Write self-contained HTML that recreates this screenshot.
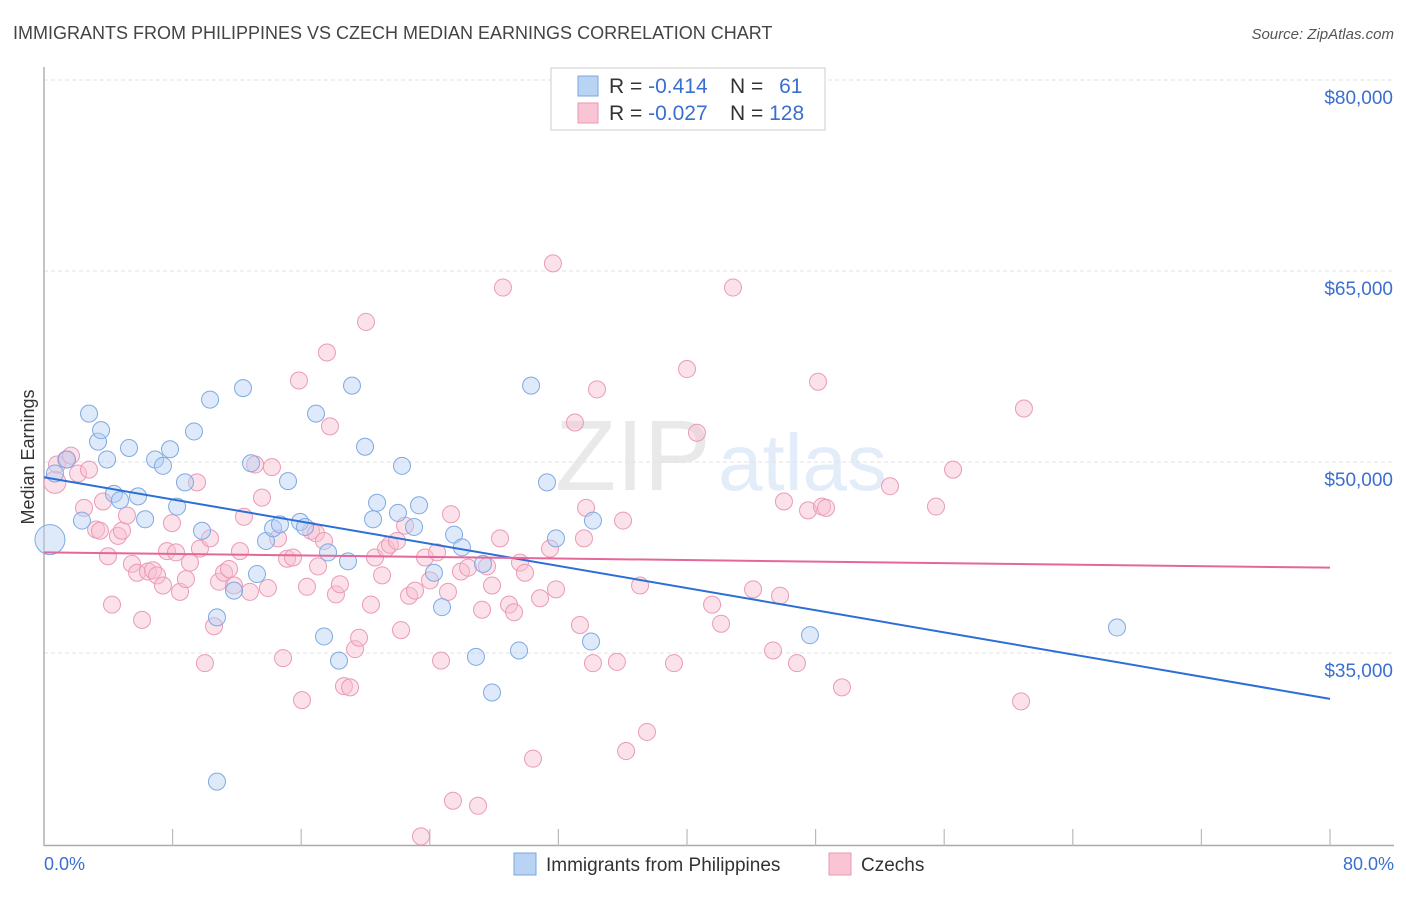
<!DOCTYPE html>
<html><head><meta charset="utf-8"><style>
body{margin:0;background:#fff;font-family:"Liberation Sans",sans-serif}
svg text{font-family:"Liberation Sans",sans-serif}
</style></head><body>
<svg id="chart" width="1406" height="892" viewBox="0 0 1406 892" xmlns="http://www.w3.org/2000/svg">
<text x="13" y="39" font-size="18" fill="#444">IMMIGRANTS FROM PHILIPPINES VS CZECH MEDIAN EARNINGS CORRELATION CHART</text>
<text x="1394" y="39" font-size="15" fill="#555" font-style="italic" text-anchor="end">Source: ZipAtlas.com</text>
<g opacity="0.18">
<text x="555" y="490" font-size="100" font-family="Liberation Serif" fill="#888">ZIP</text>
<text x="718" y="490" font-size="80" fill="#6a9be0">atlas</text>
</g>
<g id="grid"></g>
<line x1="44" y1="67" x2="44" y2="846" stroke="#aaa" stroke-width="1.5"/>
<line x1="44" y1="845.5" x2="1394" y2="845.5" stroke="#aaa" stroke-width="1.5"/>
<g id="xticks"></g>
<text transform="translate(34,457) rotate(-90)" font-size="18" fill="#333" text-anchor="middle">Median Earnings</text>
<text x="44" y="870" font-size="18" fill="#3a6fd0">0.0%</text>
<text x="1394" y="870" font-size="18" fill="#3a6fd0" text-anchor="end">80.0%</text>
<g id="pink"></g>
<g id="blue"></g>
<g id="trends"></g>
<g>
<rect x="551" y="68" width="274" height="62" fill="#fff" stroke="#ccc"/>
<rect x="578" y="76" width="20" height="20" fill="#b9d3f5" stroke="#7aa6e0"/>
<rect x="578" y="103" width="20" height="20" fill="#f9c4d4" stroke="#ea9ab3"/>
<text x="609" y="93" font-size="21" fill="#333">R = <tspan fill="#3a6fd0">-0.414</tspan></text>
<text x="730" y="93" font-size="21" fill="#333">N = <tspan fill="#3a6fd0" dx="10">61</tspan></text>
<text x="609" y="120" font-size="21" fill="#333">R = <tspan fill="#3a6fd0">-0.027</tspan></text>
<text x="730" y="120" font-size="21" fill="#333">N = <tspan fill="#3a6fd0">128</tspan></text>
</g>
<g>
<rect x="514" y="853" width="22" height="22" fill="#b9d3f5" stroke="#7aa6e0"/>
<text x="546" y="871" font-size="19" fill="#333">Immigrants from Philippines</text>
</g>
<g>
<rect x="829" y="853" width="22" height="22" fill="#f9c4d4" stroke="#ea9ab3"/>
<text x="861" y="871" font-size="19" fill="#333">Czechs</text>
</g>
</svg>
<script>
const yTicks=[35,50,65,80];
const yTickLabels=["$35,000","$50,000","$65,000","$80,000"];
const xTicks=[0,8,16,24,32,40,48,56,64,72,80];
const blueX=[0.37,0.68,1.43,2.36,2.80,3.36,3.55,3.92,4.35,4.73,5.29,5.85,6.29,6.91,7.40,7.84,8.28,8.77,9.33,9.83,10.33,10.76,10.76,11.82,12.38,12.88,13.25,13.81,14.25,14.68,15.18,15.93,16.24,16.92,17.42,17.67,18.35,18.91,19.16,19.97,20.47,20.72,22.02,22.27,23.02,23.33,24.26,24.76,25.51,26.00,26.87,27.31,27.87,29.55,30.30,31.29,31.85,34.03,34.15,47.65,66.75];
const blueY=[43.9,49.1,50.2,45.4,53.8,51.6,52.5,50.2,47.5,47.0,51.1,47.3,45.5,50.2,49.7,51.0,46.5,48.4,52.4,44.6,54.9,37.8,24.9,39.9,55.8,49.9,41.2,43.8,44.8,45.1,48.5,45.3,44.9,53.8,36.3,42.9,34.4,42.2,56.0,51.2,45.5,46.8,46.0,49.7,44.9,46.6,41.3,38.6,44.3,43.3,34.7,42.0,31.9,35.2,56.0,48.4,44.0,35.9,45.4,36.4,37.0];
const pinkX=[0.68,0.81,1.37,1.68,2.12,2.49,2.80,3.24,3.48,3.67,3.98,4.23,4.60,4.85,5.16,5.47,5.79,6.10,6.47,6.78,7.03,7.40,7.65,7.96,8.21,8.46,8.83,9.08,9.52,9.70,10.01,10.33,10.58,10.89,11.20,11.51,11.82,12.19,12.44,12.81,13.13,13.56,13.93,14.18,14.56,14.87,15.12,15.49,15.86,16.05,16.36,16.61,16.92,17.05,17.42,17.79,17.60,18.16,18.41,18.66,19.04,19.35,19.60,20.03,20.34,20.59,21.03,21.28,21.52,21.96,22.21,22.46,22.71,23.08,23.45,23.70,24.01,24.45,24.70,25.13,25.32,25.44,25.94,26.38,27.00,27.25,27.56,27.87,28.37,28.55,28.93,29.24,29.61,29.92,30.42,30.86,31.48,31.66,31.85,33.03,33.34,33.59,33.72,34.15,34.40,35.64,36.02,36.21,37.08,37.51,39.19,40.00,40.62,41.56,42.12,42.86,44.11,45.35,45.79,46.03,46.84,47.53,48.15,48.40,48.65,49.64,52.63,55.49,56.55,60.78,60.96];
const pinkY=[48.4,49.8,50.2,50.5,49.1,46.4,49.4,44.7,44.6,46.9,42.6,38.8,44.2,44.6,45.8,42.0,41.3,37.6,41.4,41.5,41.1,40.3,43.0,45.2,42.9,39.8,40.8,42.1,48.4,43.2,34.2,44.0,37.1,40.6,41.3,41.6,40.3,43.0,45.7,39.8,49.8,47.2,40.1,49.6,44.0,34.6,42.4,42.5,56.4,31.3,40.2,44.6,44.4,41.8,43.8,52.8,58.6,39.6,40.4,32.4,32.3,35.3,36.2,61.0,38.8,42.5,41.1,43.2,43.5,43.8,36.8,45.0,39.5,39.9,20.6,42.5,40.7,42.9,34.4,39.8,45.9,23.4,41.4,41.7,23.0,38.4,41.8,40.3,44.0,63.7,38.8,38.2,42.1,41.3,26.7,39.3,43.2,65.6,40.0,53.1,37.2,44.0,46.4,34.2,55.7,34.3,45.4,27.3,40.3,28.8,34.2,57.3,52.3,38.8,37.3,63.7,40.0,35.2,39.5,46.9,34.2,46.2,56.3,46.5,46.4,32.3,48.1,46.5,49.4,31.2,54.2];
const blueTrend=[48.8,31.4];
const pinkTrend=[42.9,41.7];
const NS="http://www.w3.org/2000/svg";
function sx(v){return 44+v*1286/80;}
function sy(v){return 80+(80-v)*191/15;}
function mk(tag,attrs,parent){const e=document.createElementNS(NS,tag);for(const k in attrs)e.setAttribute(k,attrs[k]);parent.appendChild(e);return e;}
const grid=document.getElementById('grid');
yTicks.forEach((t,i)=>{
 const l=mk('line',{x1:44,x2:1394,y1:sy(t),y2:sy(t),stroke:'#e2e2e2','stroke-dasharray':'4 3'},grid);
 
 
 const tx=mk('text',{x:1393,y:sy(t)+24,'font-size':19,fill:'#3a6fd0','text-anchor':'end'},grid);
 tx.textContent=yTickLabels[i];
 
 
});
const xt=document.getElementById('xticks');
xTicks.forEach(t=>{
 const l=mk('line',{x1:sx(t),x2:sx(t),y1:t===0?67:829,y2:846,stroke:'#bbb','stroke-width':1.2},xt);
 
 
});
function pts(id,X,Y,fill,stroke,name,bigR){
 const g=document.getElementById(id);
 X.forEach((x,i)=>{
  const r=i===0?bigR:8.5;
  const c=mk('circle',{cx:sx(x),cy:sy(Y[i]),r:r,fill:fill,stroke:stroke,'stroke-width':1,'fill-opacity':0.45},g);
  
  
 });
}
pts('pink',pinkX,pinkY,'#f7bfd0','#eb9ab5','czech-point',11);
pts('blue',blueX,blueY,'#b5d0f3','#7fa9e2','philippines-point',15);
const tr=document.getElementById('trends');
const b=mk('line',{x1:sx(0),y1:sy(blueTrend[0]),x2:sx(80),y2:sy(blueTrend[1]),stroke:'#2b6fd6','stroke-width':2},tr);


const p=mk('line',{x1:sx(0),y1:sy(pinkTrend[0]),x2:sx(80),y2:sy(pinkTrend[1]),stroke:'#e4679a','stroke-width':2},tr);


</script>
</body></html>
